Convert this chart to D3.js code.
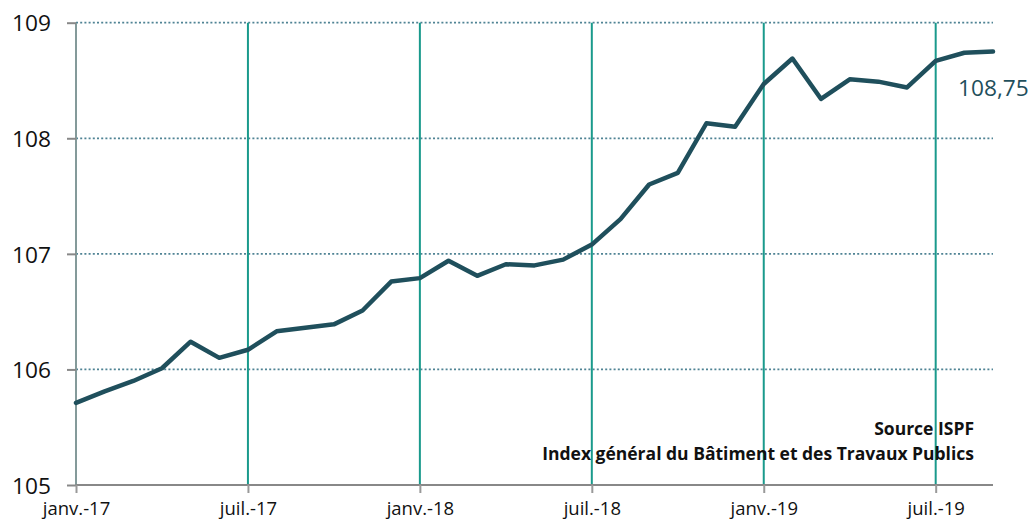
<!DOCTYPE html>
<html><head><meta charset="utf-8">
<script src="https://cdn.jsdelivr.net/npm/d3@7"></script>
<style>body{margin:0;background:#fff}svg{display:block}</style>
</head><body>
<svg id="c" width="1031" height="522"></svg>
<script>
const months = ["janv.-17","févr.-17","mars-17","avr.-17","mai-17","juin-17","juil.-17","août-17","sept.-17","oct.-17","nov.-17","déc.-17",
"janv.-18","févr.-18","mars-18","avr.-18","mai-18","juin-18","juil.-18","août-18","sept.-18","oct.-18","nov.-18","déc.-18",
"janv.-19","févr.-19","mars-19","avr.-19","mai-19","juin-19","juil.-19","août-19","sept.-19"];
const values = [105.71,105.81,105.90,106.01,106.24,106.10,106.17,106.33,106.36,106.39,106.51,106.76,
106.79,106.94,106.81,106.91,106.90,106.95,107.08,107.30,107.60,107.70,108.13,108.10,
108.47,108.69,108.34,108.51,108.49,108.44,108.67,108.74,108.75];
const xTicks = ["janv.-17","juil.-17","janv.-18","juil.-18","janv.-19","juil.-19"];
const yTicks = [105,106,107,108,109];
const lastLabel = "108,75";
const sourceLines = ["Source ISPF","Index général du Bâtiment et des Travaux Publics"];

const svg = d3.select("#c");
const L=76, R=993, T=22.7, B=485;
const x = d3.scalePoint().domain(months).range([L,R]);
const y = d3.scaleLinear().domain([105,109]).range([B,T]);
const font = "'Open Sans', sans-serif";

// horizontal dotted gridlines
svg.append("g").selectAll("line").data(yTicks.filter(v=>v>105)).join("line")
  .attr("x1",L).attr("x2",R).attr("y1",d=>y(d)).attr("y2",d=>y(d))
  .attr("stroke","#4f8394").attr("stroke-width",1.8).attr("stroke-dasharray","2,2.2");

// vertical teal lines
svg.append("g").selectAll("line").data(xTicks.slice(1)).join("line")
  .attr("x1",d=>x(d)).attr("x2",d=>x(d)).attr("y1",T).attr("y2",B)
  .attr("stroke","#1a9a8c").attr("stroke-width",2);

// y axis
const yAxis = svg.append("g").attr("transform",`translate(${L},0)`)
  .call(d3.axisLeft(y).tickValues(yTicks).tickSize(9).tickPadding(16).tickFormat(d3.format("d")));
yAxis.select(".domain").attr("stroke","#849a9a").attr("stroke-width",2).attr("d",`M0,${T}V${B}`);
yAxis.selectAll(".tick line").attr("stroke","#888").attr("stroke-width",2);
yAxis.selectAll("text").attr("font-family",font).attr("font-size",22.7).attr("fill","#111").attr("dy","0.36em");

// x axis
const xAxis = svg.append("g").attr("transform",`translate(0,${B})`)
  .call(d3.axisBottom(x).tickValues(xTicks).tickSize(8).tickPadding(9));
xAxis.select(".domain").attr("stroke","#888").attr("stroke-width",2).attr("d",`M${L},0H${R}`);
xAxis.selectAll(".tick line").attr("stroke","#999").attr("stroke-width",2);
xAxis.selectAll("text").attr("font-family",font).attr("font-size",18.5).attr("fill","#111");

// line
svg.append("path").datum(values.map((v,i)=>[months[i],v]))
  .attr("fill","none").attr("stroke","#1f4f5c").attr("stroke-width",4.5)
  .attr("stroke-linejoin","round").attr("stroke-linecap","round")
  .attr("d",d3.line().x(d=>x(d[0])).y(d=>y(d[1])));

// last value label
svg.append("text").attr("x",x(months[months.length-1])-35).attr("y",y(values[values.length-1])+44)
  .attr("font-family",font).attr("font-size",22.7).attr("fill","#1f4f5c").text(lastLabel);

// source text
svg.append("g").selectAll("text").data(sourceLines).join("text")
  .attr("x",974).attr("y",(d,i)=>435+i*25).attr("text-anchor","end")
  .attr("font-family",font).attr("font-weight","bold").attr("font-size",17.5).attr("fill","#111")
  .text(d=>d);
</script>
</body></html>
